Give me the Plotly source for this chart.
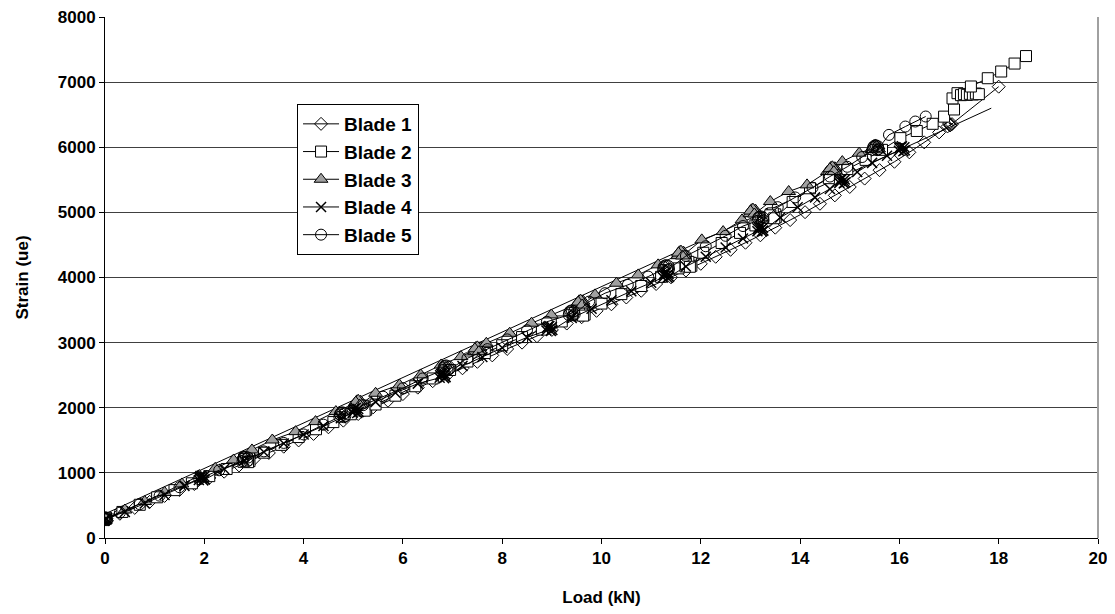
import plotly.graph_objects as go

# ---------------- data ----------------
b1_load = [-0.02, 0.03, 0.0, 0.02,
           0.3, 0.6, 0.9, 1.2, 1.5, 1.8, 2.1, 2.4, 2.7, 3.0, 3.3, 3.6, 3.9, 4.2, 4.5, 4.8,
           5.1, 5.4, 5.7, 6.0, 6.3, 6.6, 6.9, 7.2, 7.5, 7.8, 8.1, 8.4, 8.7, 9.0, 9.3, 9.6,
           9.9, 10.2, 10.5, 10.8, 11.1, 11.4, 11.7, 12.0, 12.3, 12.6, 12.9, 13.2, 13.5, 13.8,
           14.1, 14.4, 14.7, 15.0, 15.3, 15.6, 15.9, 16.2, 16.5, 16.8,
           16.97, 17.03, 17.0, 17.06, 17.02, 18.0]
b1_strain = [270, 295, 310, 285,
             372, 463, 555, 646, 738, 829, 922, 1018, 1114, 1210, 1306, 1402, 1498, 1598, 1700, 1802,
             1904, 2006, 2108, 2210, 2309, 2408, 2507, 2606, 2705, 2804, 2903, 3000, 3098, 3195, 3293, 3390,
             3488, 3589, 3693, 3796, 3900, 4003, 4107, 4210, 4318, 4426, 4534, 4648, 4765, 4882,
             5003, 5132, 5261, 5390, 5519, 5648, 5777, 5922, 6075, 6228,
             6320, 6345, 6370, 6355, 6335, 6930]

b2_load = [-0.02, 0.03, 0.0, 0.02,
           0.35, 0.7, 1.05, 1.4, 1.75, 2.1, 2.45, 2.8,
           2.79, 2.9, 2.82, 2.91, 2.85, 2.8, 2.88,
           3.2, 3.55, 3.9, 4.25, 4.6, 4.95,
           5.14, 5.25, 5.17, 5.26, 5.2, 5.15, 5.23,
           5.45, 5.85, 6.25, 6.6, 6.95, 7.3, 7.65, 8.0, 8.4, 8.8, 9.2,
           9.54, 9.65, 9.57, 9.66, 9.6, 9.55, 9.63,
           10.0, 10.4, 10.8, 11.2, 11.55,
           11.69, 11.8, 11.72, 11.81, 11.75, 11.7, 11.78,
           12.05, 12.42, 12.79, 13.1,
           13.39, 13.5, 13.42, 13.51, 13.45, 13.4, 13.48,
           13.85, 14.2, 14.58, 14.95, 15.32, 15.65, 16.02, 16.35, 16.67, 16.9, 17.1, 17.07, 17.17,
           17.24, 17.3, 17.36, 17.42, 17.48, 17.54, 17.6,
           17.44, 17.78, 18.05, 18.32, 18.55]
b2_strain = [275, 300, 290, 310,
             400, 510, 625, 735, 840, 950, 1060, 1180,
             1170, 1225, 1230, 1180, 1240, 1210, 1165,
             1310, 1430, 1550, 1670, 1780, 1900,
             1960, 2015, 2020, 1970, 2030, 2000, 1955,
             2050, 2185, 2330, 2450, 2580, 2710, 2840, 2960, 3085, 3200, 3325,
             3420, 3475, 3480, 3430, 3490, 3460, 3415,
             3600, 3745, 3870, 4010, 4140,
             4170, 4225, 4230, 4180, 4240, 4210, 4165,
             4380, 4530, 4685, 4800,
             4915, 4970, 4975, 4925, 4985, 4955, 4910,
             5160, 5370, 5525, 5665, 5806, 5960, 6140, 6250, 6360, 6470, 6580, 6750, 6830,
             6800, 6815, 6805, 6820, 6810, 6825, 6815,
             6933, 7060, 7163, 7285, 7400]

b3_load = [-0.02, 0.03, 0.0, 0.02,
           0.4, 0.8, 1.2, 1.55, 1.9, 2.22, 2.59, 2.96, 3.37, 3.84, 4.24, 4.65, 5.05,
           5.04, 5.15, 5.07, 5.16, 5.1, 5.05, 5.13,
           5.45, 5.93, 6.36, 6.77, 7.17, 7.47,
           7.44, 7.55, 7.47, 7.56, 7.5, 7.45, 7.53,
           7.68, 8.15, 8.59, 8.99, 9.56,
           9.52, 9.63, 9.55, 9.64, 9.58, 9.53, 9.61,
           9.87, 10.3, 10.74, 11.14, 11.55,
           11.54, 11.65, 11.57, 11.66, 11.6, 11.55, 11.63,
           12.02, 12.45, 12.83,
           12.99, 13.1, 13.02, 13.11, 13.05, 13.0, 13.08,
           13.4, 13.77, 14.14, 14.55,
           14.59, 14.7, 14.62, 14.71, 14.65, 14.6, 14.68,
           14.85, 15.19, 15.45,
           15.46, 15.57, 15.49, 15.58, 15.52, 15.47, 15.55]
b3_strain = [285, 310, 300, 295,
             430, 560, 700, 830, 960, 1070, 1198, 1352, 1505, 1633, 1787, 1941, 2069,
             2045, 2100, 2105, 2055, 2115, 2085, 2040,
             2222, 2350, 2504, 2657, 2785, 2888,
             2865, 2920, 2925, 2875, 2935, 2905, 2860,
             2990, 3144, 3298, 3425, 3605,
             3582, 3637, 3642, 3592, 3652, 3622, 3577,
             3733, 3912, 4040, 4194, 4347,
             4335, 4390, 4395, 4345, 4405, 4375, 4330,
             4578, 4705, 4885,
             4980, 5035, 5040, 4990, 5050, 5020, 4975,
             5166, 5320, 5422, 5627,
             5630, 5685, 5690, 5640, 5700, 5670, 5625,
             5780, 5909, 5980,
             5965, 6020, 6025, 5975, 6035, 6005, 5960]

b4_load = [-0.02, 0.03, 0.0, 0.02,
           0.4, 0.8, 1.2, 1.6, 1.95,
           1.89, 2.0, 1.92, 2.01, 1.95, 1.9, 1.98,
           2.4, 2.8, 3.2, 3.6, 4.0, 4.4, 4.75,
           4.99, 5.1, 5.02, 5.11, 5.05, 5.0, 5.08,
           5.45, 5.85, 6.3,
           6.74, 6.85, 6.77, 6.86, 6.8, 6.75, 6.83,
           7.2, 7.6, 8.0, 8.5,
           8.89, 9.0, 8.92, 9.01, 8.95, 8.9, 8.98,
           9.4, 9.8, 10.2, 10.6, 11.0,
           11.24, 11.35, 11.27, 11.36, 11.3, 11.25, 11.33,
           11.7, 12.1, 12.5, 12.85,
           13.14, 13.25, 13.17, 13.26, 13.2, 13.15, 13.23,
           13.6, 13.95, 14.3, 14.6,
           14.79, 14.9, 14.82, 14.91, 14.85, 14.8, 14.88,
           15.15, 15.45, 15.75,
           15.99, 16.1, 16.02, 16.11, 16.05, 16.0, 16.08]
b4_strain = [265, 290, 280, 300,
             400, 530, 660, 800, 920,
             890, 945, 950, 900, 960, 930, 885,
             1060, 1190, 1320, 1450, 1590, 1720, 1840,
             1925, 1980, 1985, 1935, 1995, 1965, 1920,
             2090, 2230, 2370,
             2460, 2515, 2520, 2470, 2530, 2500, 2455,
             2640, 2780, 2920, 3080,
             3185, 3240, 3245, 3195, 3255, 3225, 3180,
             3380, 3520, 3650, 3790, 3920,
             4000, 4055, 4060, 4010, 4070, 4040, 3995,
             4170, 4320, 4460, 4600,
             4710, 4765, 4770, 4720, 4780, 4750, 4705,
             4920, 5080, 5230, 5360,
             5450, 5505, 5510, 5460, 5520, 5490, 5445,
             5620, 5760, 5870,
             5945, 6000, 6005, 5955, 6015, 5985, 5940]

b5_load = [-0.02, 0.03, 0.0, 0.02,
           0.3, 0.7, 1.1, 1.5, 1.9, 2.3,
           2.77, 2.88, 2.8, 2.89, 2.83, 2.78, 2.86,
           3.2, 3.6, 4.0, 4.4,
           4.72, 4.83, 4.75, 4.84, 4.78, 4.73, 4.81,
           5.2, 5.6, 6.0, 6.4,
           6.81, 6.92, 6.84, 6.93, 6.87, 6.82, 6.9,
           7.3, 7.7, 8.1, 8.5, 8.9,
           9.34, 9.45, 9.37, 9.46, 9.4, 9.35, 9.43,
           9.75, 10.07, 10.53, 10.94,
           11.24, 11.35, 11.27, 11.36, 11.3, 11.25, 11.33,
           11.7, 12.1, 12.5, 12.85,
           13.14, 13.25, 13.17, 13.26, 13.2, 13.15, 13.23,
           13.55, 13.9, 14.25, 14.6, 14.95, 15.25,
           15.46, 15.57, 15.49, 15.58, 15.52, 15.47, 15.55,
           15.79, 16.12, 16.32, 16.53]
b5_strain = [290, 310, 300, 305,
             390, 520, 650, 780, 900, 1040,
             1180, 1235, 1240, 1190, 1250, 1220, 1175,
             1330, 1460, 1590, 1740,
             1860, 1915, 1920, 1870, 1930, 1900, 1855,
             2040, 2170, 2300, 2450,
             2580, 2635, 2640, 2590, 2650, 2620, 2575,
             2760, 2900, 3050, 3190, 3320,
             3425, 3480, 3485, 3435, 3495, 3465, 3420,
             3630, 3759, 3886, 4014,
             4120, 4175, 4180, 4130, 4190, 4160, 4115,
             4330, 4480, 4640, 4790,
             4870, 4925, 4930, 4880, 4940, 4910, 4865,
             5080, 5230, 5380, 5550, 5700, 5850,
             5960, 6015, 6020, 5970, 6030, 6000, 5955,
             6190, 6318, 6395, 6472]

trend_load = [0.0, 17.85]
trend_strain = [370, 6600]

series_names = ["Blade 1", "Blade 2", "Blade 3", "Blade 4", "Blade 5"]
x_ticks = [0, 2, 4, 6, 8, 10, 12, 14, 16, 18, 20]
y_ticks = [0, 1000, 2000, 3000, 4000, 5000, 6000, 7000, 8000]

for a, b in [(b1_load, b1_strain), (b2_load, b2_strain), (b3_load, b3_strain),
             (b4_load, b4_strain), (b5_load, b5_strain)]:
    assert len(a) == len(b), (len(a), len(b))

# ---------------- figure ----------------
FONT = "Arial, Liberation Sans, Helvetica, sans-serif"
fig = go.Figure()

fig.add_trace(go.Scatter(x=trend_load, y=trend_strain, mode="lines",
                         line=dict(color="black", width=1), showlegend=False,
                         hoverinfo="skip"))

styles = [
    dict(symbol="diamond-open", size=10, color="black", line=dict(color="black", width=1)),
    dict(symbol="square", size=11, color="white", line=dict(color="black", width=1)),
    dict(symbol="triangle-up", size=12, color="#a0a0a0", line=dict(color="black", width=1)),
    dict(symbol="x-thin-open", size=10, color="black", line=dict(color="black", width=1.5)),
    dict(symbol="circle-open", size=11, color="black", line=dict(color="black", width=1)),
]
data = [(b1_load, b1_strain), (b2_load, b2_strain), (b3_load, b3_strain),
        (b4_load, b4_strain), (b5_load, b5_strain)]

for name, (xs, ys), st in zip(series_names, data, styles):
    fig.add_trace(go.Scatter(x=xs, y=ys, mode="lines+markers", name=name,
                             line=dict(color="black", width=1), marker=st))

# the page body has an 8px margin, so the figure is 8px smaller than the window
fig.update_layout(
    width=1107, height=606,
    margin=dict(l=97, r=17, t=9, b=76, autoexpand=False),
    paper_bgcolor="white", plot_bgcolor="white",
    font=dict(family=FONT, size=17, color="black", weight="bold"),
    legend=dict(x=0.1934, y=0.833, xanchor="left", yanchor="top",
                bordercolor="black", borderwidth=1, bgcolor="white",
                font=dict(size=19, weight="bold"), itemwidth=36,
                tracegroupgap=0),
    showlegend=True,
)
fig.update_xaxes(range=[0, 20], tickvals=x_ticks, ticks="outside", ticklen=5,
                 tickcolor="black", showline=True, linecolor="black", linewidth=1,
                 showgrid=False, zeroline=False, ticklabeloverflow="allow",
                 automargin=False,
                 tickfont=dict(size=17, weight="bold"),
                 title=dict(text="Load (kN)", font=dict(size=17, weight="bold"), standoff=23))
fig.update_yaxes(range=[0, 8000], tickvals=y_ticks, ticks="outside", ticklen=5,
                 tickcolor="black", showline=True, linecolor="black", linewidth=1,
                 showgrid=True, gridcolor="#404040", gridwidth=1, zeroline=False,
                 ticklabeloverflow="allow", automargin=False,
                 tickfont=dict(size=17, weight="bold"),
                 title=dict(text="Strain (ue)", font=dict(size=17, weight="bold"), standoff=24))
fig.add_shape(type="line", xref="paper", yref="paper", x0=1, x1=1, y0=0, y1=1,
              line=dict(color="#a0a0a0", width=2))

fig.write_html("out.html")
